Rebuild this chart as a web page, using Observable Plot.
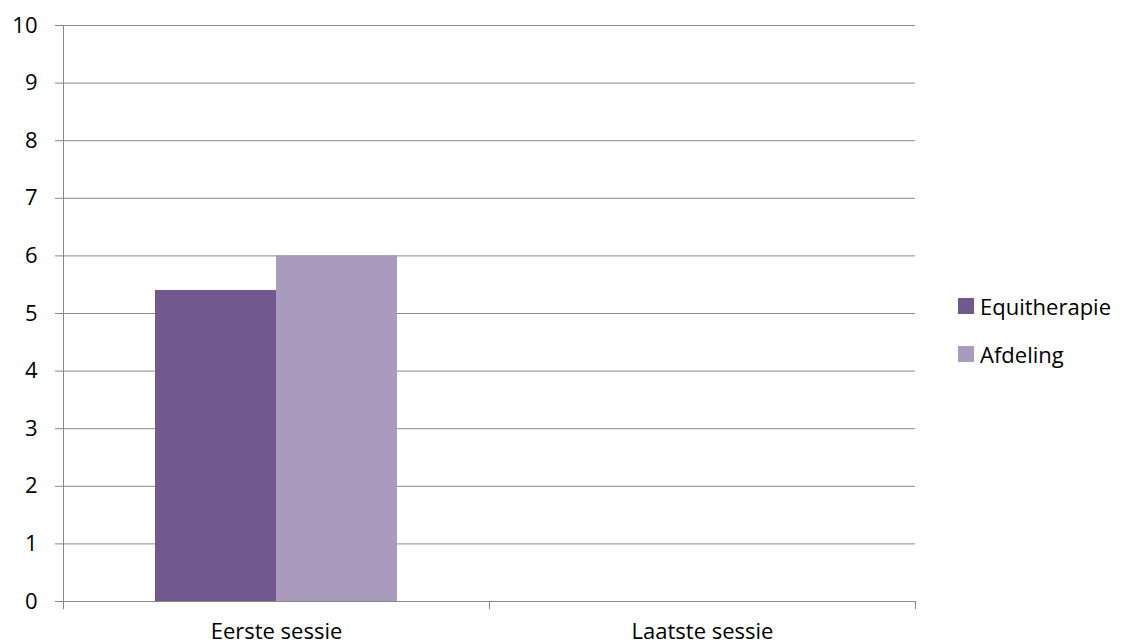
<!DOCTYPE html>
<html>
<head>
<meta charset="utf-8">
<script src="https://cdn.jsdelivr.net/npm/d3@7"></script>
<script src="https://cdn.jsdelivr.net/npm/@observablehq/plot@0.6"></script>
<style>
  html, body { margin: 0; padding: 0; background: #fff; overflow: hidden; }
  #wrap { position: relative; width: 1121px; height: 644px; font-family: "Open Sans", sans-serif; }
  #legend { position: absolute; left: 958px; top: 292px; font-size: 22px; color: #000; }
  .item { display: flex; align-items: center; height: 28px; margin-bottom: 20px; }
  .sw { width: 16px; height: 16px; margin-right: 6px; }
</style>
</head>
<body>
<div id="wrap"><div id="legend"></div></div>
<script>
// Sessions on the x axis, one group of bars per session
const categories = ["Eerste sessie", "Laatste sessie"];
// Series (legend order) and their fill colours
const series = ["Equitherapie", "Afdeling"];
const seriesColors = ["#71588F", "#A99BBD"];
// Scores per session; the last session has no values yet
const equitherapie = [5.4, null];
const afdeling = [6.0, null];
// Y axis ticks
const yTicks = [0, 1, 2, 3, 4, 5, 6, 7, 8, 9, 10];

const gridColor = "#888888";

// One row per session and series; empty values keep their session's panel
const rows = [];
categories.forEach((c, i) => {
  [equitherapie, afdeling].forEach((vals, j) => {
    rows.push({session: c, series: series[j], value: vals[i]});
  });
});

const chart = Plot.plot({
  width: 1121,
  height: 644,
  marginLeft: 62,
  marginRight: 206,
  marginTop: 25,
  marginBottom: 43,
  style: {fontFamily: "'Open Sans', sans-serif", fontSize: "22px", color: "#000", background: "#fff"},
  fx: {domain: categories, paddingInner: 0, paddingOuter: 0, label: null},
  x: {domain: series, paddingInner: 0, paddingOuter: 0.746, axis: null},
  y: {domain: [0, 10], label: null},
  color: {domain: series, range: seriesColors},
  marks: [
    Plot.gridY(yTicks, {stroke: gridColor, strokeOpacity: 1, strokeWidth: 1}),
    Plot.barY(rows, {fx: "session", x: "series", y: "value", fill: "series"}),
    Plot.axisY(yTicks, {anchor: "left", tickSize: 8, tickPadding: 18, stroke: gridColor, label: null, tickFormat: d3.format("d")}),
    Plot.axisFx({anchor: "bottom", tickSize: 0, tickPadding: 22, label: null})
  ]
});

// Left axis line and category boundary ticks, placed with the plot's own scales
const fxScale = Plot.scale({fx: chart.scale("fx")});
const yScale = Plot.scale({y: chart.scale("y")});
const y0 = yScale.apply(0);
const yTop = yScale.apply(10);
const edges = categories.map(c => fxScale.apply(c));
edges.push(fxScale.apply(categories[categories.length - 1]) + fxScale.bandwidth);
const g = d3.select(chart).append("g").attr("stroke", gridColor).attr("stroke-width", 1);
g.append("line").attr("x1", edges[0] + 0.5).attr("x2", edges[0] + 0.5)
  .attr("y1", yTop).attr("y2", y0 + 8);
edges.forEach(xp => {
  g.append("line").attr("x1", xp + 0.5).attr("x2", xp + 0.5).attr("y1", y0).attr("y2", y0 + 8);
});

document.getElementById("wrap").prepend(chart);

// Legend
const legend = document.getElementById("legend");
series.forEach((s, i) => {
  const item = document.createElement("div");
  item.className = "item";
  const sw = document.createElement("span");
  sw.className = "sw";
  sw.style.background = seriesColors[i];
  const t = document.createElement("span");
  t.textContent = s;
  item.append(sw, t);
  legend.append(item);
});
</script>
</body>
</html>
